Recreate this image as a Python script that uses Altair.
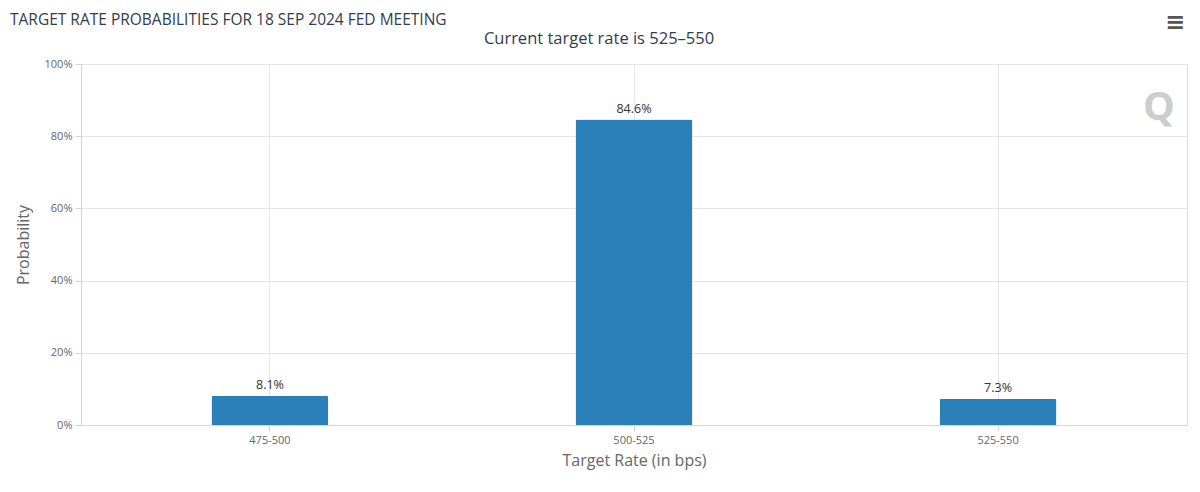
import altair as alt
import pandas as pd

categories = ["475-500", "500-525", "525-550"]
probabilities = [8.1, 84.6, 7.3]
y_ticks = [0, 20, 40, 60, 80, 100]
title_text = "TARGET RATE PROBABILITIES FOR 18 SEP 2024 FED MEETING"
subtitle_text = "Current target rate is 525–550"

df = pd.DataFrame({"rate": categories, "prob": probabilities})
df["label"] = [f"{p:.1f}%" for p in probabilities]

FONT = "Open Sans"
W, H = 1106, 361

x = alt.X(
    "rate:N",
    sort=categories,
    title="Target Rate (in bps)",
    scale=alt.Scale(paddingInner=0, paddingOuter=0.019),
    axis=alt.Axis(
        labelAngle=0, labelFontSize=11, labelColor="#666666", labelFont=FONT,
        titleFontSize=16, titleColor="#666666", titleFontWeight="normal", titleFont=FONT,
        grid=True, gridColor="#e6e6e6", domainColor="#ccd6eb", domainWidth=1,
        tickColor="#ccd6eb", tickSize=6, labelPadding=3, titlePadding=7,
    ),
)
y = alt.Y(
    "prob:Q",
    scale=alt.Scale(domain=[0, 100]),
    title="Probability",
    axis=alt.Axis(
        values=y_ticks, labelExpr="datum.value + '%'",
        labelFontSize=11, labelColor="#666666", labelFont=FONT,
        titleFontSize=16, titleColor="#666666", titleFontWeight="normal", titleFont=FONT,
        grid=True, gridColor="#e6e6e6", domainColor="#ccd6eb",
        tickColor="#ccd6eb", tickSize=6, labelPadding=3, titlePadding=13,
    ),
)

base = alt.Chart(df)
bars = base.mark_bar(
    color="#2a7fb8", width=alt.RelativeBandSize(0.321),
    cornerRadiusTopLeft=2, cornerRadiusTopRight=2,
).encode(x=x, y=y)
labels = base.mark_text(
    dy=-11, fontSize=12.5, color="#333333", font=FONT
).encode(x=x, y=y, text="label:N")

title_df = pd.DataFrame({"t": [title_text]})
title = alt.Chart(title_df).mark_text(
    align="left", baseline="alphabetic", fontSize=15.5, color="#333b4f", font=FONT
).encode(x=alt.value(-71), y=alt.value(-39), text="t:N")

sub_df = pd.DataFrame({"t": [subtitle_text]})
subtitle = alt.Chart(sub_df).mark_text(
    align="center", baseline="alphabetic", fontSize=16.5, color="#333b4f", font=FONT
).encode(x=alt.value(518), y=alt.value(-20), text="t:N")

logo_df = pd.DataFrame({"t": ["Q"]})
logo = alt.Chart(logo_df).mark_text(
    align="center", baseline="middle", fontSize=40, fontWeight="bold",
    color="#cdcdcd", font=FONT,
).encode(x=alt.value(1078), y=alt.value(44), text="t:N")

menu_df = pd.DataFrame({"t": ["≡"]})
menu = alt.Chart(menu_df).mark_text(
    align="center", baseline="middle", fontSize=24, fontWeight="bold",
    color="#555555", font="DejaVu Sans",
).encode(x=alt.value(1094), y=alt.value(-41), text="t:N")

chart = alt.layer(bars, labels, title, subtitle, logo, menu).properties(
    width=W, height=H,
    autosize=alt.AutoSizeParams(type="none"),
    padding={"left": 73, "top": 56, "right": 5, "bottom": 59},
).configure_view(stroke=None).configure(background="white")

chart.save("out.html", embed_options={"renderer": "svg", "actions": False})
